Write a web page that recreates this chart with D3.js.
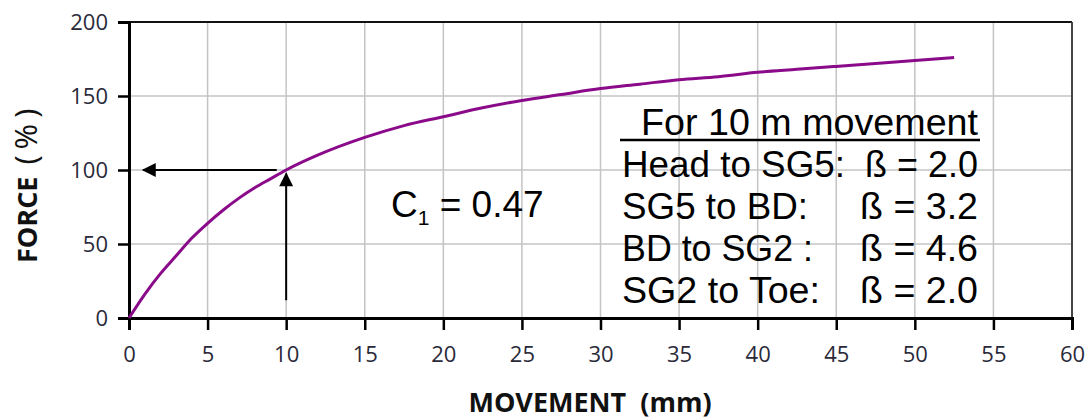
<!DOCTYPE html>
<html>
<head>
<meta charset="utf-8">
<script src="https://cdn.jsdelivr.net/npm/d3@7"></script>
<style>
  body { margin: 0; background: white; }
  svg { display: block; }
</style>
</head>
<body>
<script>
// movement (mm) and force (%)
const movement = [0, 1, 2, 3, 4, 5, 6, 7, 8, 9, 10, 12, 15, 17.5, 20, 22.5, 25, 27.5, 30, 32.5, 35, 37.5, 40, 42.5, 45, 47.5, 50, 52.5];
const force    = [0, 16, 30, 42, 54, 64, 73, 81, 88, 94, 100, 110, 122, 130, 136, 142, 147, 151, 155, 158, 161, 163, 166, 168, 170, 172, 174, 176];
const xTicks = [0, 5, 10, 15, 20, 25, 30, 35, 40, 45, 50, 55, 60];
const yTicks = [0, 50, 100, 150, 200];
const tableTitle = "For 10 m movement";
const tableRows = ["Head to SG5:", "SG5 to BD:", "BD to SG2 :", "SG2 to Toe:"];
const tableBeta = ["2.0", "3.2", "4.6", "2.0"];

const width = 1087, height = 420;
const margin = {left: 129, right: 15, top: 22, bottom: 102};

const svg = d3.select("body").append("svg")
    .attr("width", width)
    .attr("height", height);

const x = d3.scaleLinear().domain([0, 60]).range([margin.left, width - margin.right]);
const y = d3.scaleLinear().domain([0, 200]).range([height - margin.bottom, margin.top]);

// gridlines
svg.append("g").selectAll("line")
    .data(xTicks.slice(1))
    .enter().append("line")
    .attr("x1", d => x(d)).attr("x2", d => x(d))
    .attr("y1", y(0)).attr("y2", y(200))
    .attr("stroke", "#c4c4c4").attr("stroke-width", 1.5);

svg.append("g").selectAll("line")
    .data(yTicks.slice(1))
    .enter().append("line")
    .attr("x1", x(0)).attr("x2", x(60))
    .attr("y1", d => y(d)).attr("y2", d => y(d))
    .attr("stroke", "#c4c4c4").attr("stroke-width", 1.5);

// frame top / right
svg.append("line")
    .attr("x1", x(0)).attr("x2", x(60)).attr("y1", y(200)).attr("y2", y(200))
    .attr("stroke", "#111").attr("stroke-width", 2);
svg.append("line")
    .attr("x1", x(60)).attr("x2", x(60)).attr("y1", y(200)).attr("y2", y(0))
    .attr("stroke", "#444").attr("stroke-width", 2);

// axes
const xAxis = svg.append("g")
    .attr("transform", `translate(0,${y(0)})`)
    .call(d3.axisBottom(x).tickValues(xTicks).tickSize(12).tickPadding(16));
const yAxis = svg.append("g")
    .attr("transform", `translate(${x(0)},0)`)
    .call(d3.axisLeft(y).tickValues(yTicks).tickSize(11).tickPadding(10));

[xAxis, yAxis].forEach(g => {
    g.select(".domain").attr("stroke", "#000").attr("stroke-width", 3);
    g.selectAll(".tick line").attr("stroke", "#000").attr("stroke-width", 2.5);
    g.selectAll(".tick text")
        .attr("fill", "#2a2a3a")
        .style("font-family", "'Open Sans', 'Noto Sans', sans-serif")
        .style("font-size", "22px");
});

// curve
const points = movement.map((m, i) => [m, force[i]]);
svg.append("path")
    .datum(points)
    .attr("fill", "none")
    .attr("stroke", "#8a0a8a")
    .attr("stroke-width", 3)
    .attr("d", d3.line().x(d => x(d[0])).y(d => y(d[1])).curve(d3.curveMonotoneX));

// arrows
svg.append("defs").append("marker")
    .attr("id", "head")
    .attr("viewBox", "0 0 10 10")
    .attr("refX", 9).attr("refY", 5)
    .attr("markerWidth", 17).attr("markerHeight", 14)
    .attr("markerUnits", "userSpaceOnUse")
    .attr("orient", "auto")
    .append("path").attr("d", "M0,0 L10,5 L0,10 Z").attr("fill", "#000");

svg.append("line")
    .attr("x1", x(9.4)).attr("y1", y(100))
    .attr("x2", x(0.9)).attr("y2", y(100))
    .attr("stroke", "#000").attr("stroke-width", 2)
    .attr("marker-end", "url(#head)");
svg.append("line")
    .attr("x1", x(10)).attr("y1", y(12))
    .attr("x2", x(10)).attr("y2", y(97.5))
    .attr("stroke", "#000").attr("stroke-width", 2)
    .attr("marker-end", "url(#head)");

// C1 label
const arial = "'Liberation Sans', Arial, sans-serif";
const c1 = svg.append("text")
    .attr("x", 391).attr("y", 217)
    .style("font-family", arial).style("font-size", "37px")
    .attr("fill", "#000");
c1.append("tspan").text("C");
c1.append("tspan").attr("dy", 8).style("font-size", "21px").text("1");
c1.append("tspan").attr("dy", -8).text(" = 0.47");

// table text
svg.append("text")
    .attr("x", 641).attr("y", 135)
    .style("font-family", arial).style("font-size", "36px")
    .attr("textLength", 337).attr("lengthAdjust", "spacingAndGlyphs")
    .text(tableTitle);
svg.append("line")
    .attr("x1", 620).attr("x2", 980).attr("y1", 140).attr("y2", 140)
    .attr("stroke", "#000").attr("stroke-width", 2.5);

const rowY = d3.scalePoint().domain(d3.range(tableRows.length)).range([177, 303]);
const rowWidth = [223, 186, 191, 198];
svg.append("g").selectAll("text")
    .data(tableRows)
    .enter().append("text")
    .attr("x", 622).attr("y", (d, i) => rowY(i))
    .style("font-family", arial).style("font-size", "36px")
    .attr("textLength", (d, i) => rowWidth[i])
    .attr("lengthAdjust", "spacingAndGlyphs")
    .text(d => d);
svg.append("g").selectAll("text")
    .data(tableBeta)
    .enter().append("text")
    .attr("x", 978).attr("y", (d, i) => rowY(i))
    .attr("text-anchor", "end")
    .style("font-family", arial).style("font-size", "36px")
    .attr("textLength", (d, i) => i === 0 ? 113 : 118)
    .attr("lengthAdjust", "spacingAndGlyphs")
    .text(d => "ß = " + d);

// axis titles
svg.append("text")
    .attr("x", 590).attr("y", 412)
    .attr("text-anchor", "middle")
    .style("font-family", "'Open Sans', 'Noto Sans', sans-serif")
    .style("font-size", "27px").style("font-weight", "bold")
    .style("white-space", "pre")
    .attr("fill", "#111")
    .text("MOVEMENT  (mm)");

const yTitle = svg.append("text")
    .attr("transform", "translate(37,263) rotate(-90)")
    .attr("text-anchor", "start")
    .style("font-family", "'Open Sans', 'Noto Sans', sans-serif")
    .attr("fill", "#111");
yTitle.append("tspan").style("font-size", "27px").style("font-weight", "bold").text("FORCE");
yTitle.append("tspan").attr("dx", 12)
    .style("font-size", "31px").style("letter-spacing", "6px").text("(%)");
</script>
</body>
</html>
